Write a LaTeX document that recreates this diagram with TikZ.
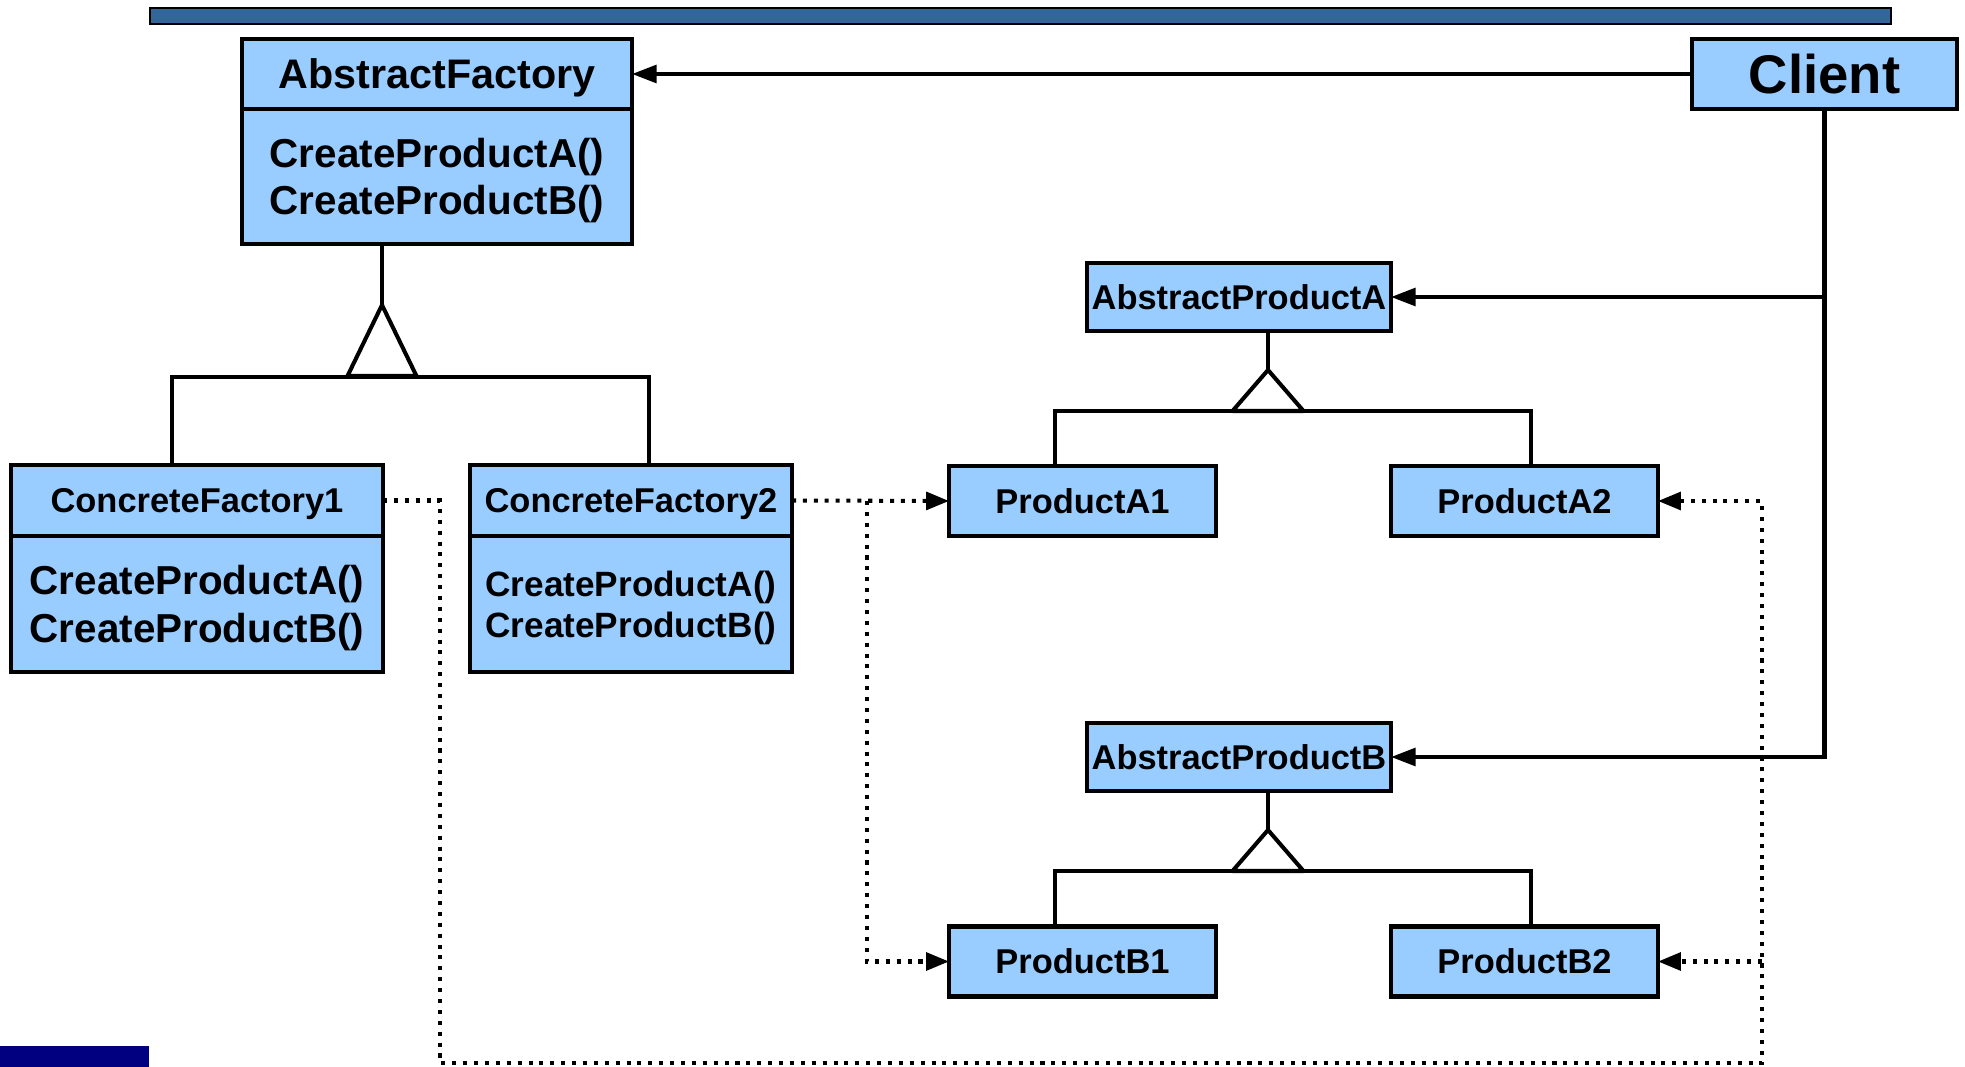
\documentclass[tikz,border=0pt]{standalone}
\usepackage{fontspec}
\setmainfont{Liberation Sans}
\usetikzlibrary{arrows.meta,positioning}
\definecolor{classblue}{HTML}{99CCFF}
\definecolor{barblue}{HTML}{336699}
\definecolor{logoblue}{HTML}{000080}

\begin{document}
\begin{tikzpicture}[x=0.02cm,y=-0.02cm,
  cls/.style={draw,fill=classblue,line width=2.5pt,outer sep=0pt,inner sep=0pt,align=center,text depth=0pt},
  big/.style={font=\bfseries\fontsize{23.5}{28}\selectfont},
  ops/.style={font=\bfseries\fontsize{23}{27}\selectfont},
  small/.style={font=\bfseries\fontsize{19.6}{23.5}\selectfont},
  prod/.style={cls,small,minimum width=5.34cm,minimum height=1.4cm},
  conn/.style={line width=2.3pt},
  uses/.style={conn,-{Triangle[length=14pt,width=10pt]}},
  creates/.style={line width=2.3pt,dash pattern=on 2.3pt off 3.9pt,-{Triangle[length=13pt,width=10pt]}}]
  \useasboundingbox (0,0) rectangle (1965,1067);
  \fill[barblue,draw=black,line width=1.2pt] (150,8) rectangle (1891,24);
  \fill[logoblue] (0,1046) rectangle (149,1067);

  \node[cls,big,minimum width=7.8cm,minimum height=1.4cm]  (af)     at (437,74)     {AbstractFactory};
  \node[cls,ops,minimum width=7.8cm,minimum height=2.7cm]  (af_ops) [below=0pt of af] {CreateProductA()\\CreateProductB()};
  \node[cls,font=\bfseries\fontsize{31}{36}\selectfont,minimum width=5.3cm,minimum height=1.4cm] (client) at (1824.5,74) {Client};
  \node[cls,small,minimum width=7.44cm,minimum height=1.42cm] (cf_1)     at (197,500.5) {ConcreteFactory1};
  \node[cls,ops,minimum width=7.44cm,minimum height=2.72cm]   (cf_1_ops) [below=0pt of cf_1] {CreateProductA()\\CreateProductB()};
  \node[cls,small,minimum width=6.44cm,minimum height=1.42cm] (cf_2)     at (631,500.5) {ConcreteFactory2};
  \node[cls,font=\bfseries\fontsize{20}{23.3}\selectfont,minimum width=6.44cm,minimum height=2.72cm] (cf_2_ops) [below=0pt of cf_2] {CreateProductA()\\CreateProductB()};
  \node[cls,small,minimum width=6.08cm,minimum height=1.36cm] (apa) at (1239,297) {AbstractProductA};
  \node[cls,small,minimum width=6.08cm,minimum height=1.36cm] (apb) at (1239,757) {AbstractProductB};
  \node[prod] (pa_1) at (1082.5,501)   {ProductA1};
  \node[prod] (pa_2) at (1524.5,501)   {ProductA2};
  \node[prod] (pb_1) at (1082.5,961.5) {ProductB1};
  \node[prod] (pb_2) at (1524.5,961.5) {ProductB2};

  % factory hierarchy
  \coordinate (af_tip) at (382,305);
  \coordinate (af_l) at (172,377);
  \coordinate (af_r) at (649,377);
  \draw[conn] (af_ops.south -| af_tip) -- (af_tip);
  \draw[conn,line join=round] (af_tip) -- ++(-34.5,71) -- ++(69,0) -- cycle;
  \draw[conn] (af_l |- cf_1.north) -- (af_l) -- (af_r) -- (af_r |- cf_2.north);

  % product hierarchies
  \foreach \ab/\py/\lo/\hi in {apa/370/pa_1/pa_2,apb/830/pb_1/pb_2} {
    \coordinate (tip) at (1268,\py);
    \coordinate (bar_l) at (1055,\py+41);
    \coordinate (bar_r) at (1531,\py+41);
    \draw[conn] (\ab.south -| tip) -- (tip);
    \draw[conn,line join=round] (tip) -- ++(-35.5,41) -- ++(71,0) -- cycle;
    \draw[conn] (bar_l |- \lo.north) -- (bar_l) -- (bar_r) -- (bar_r |- \hi.north);
  }

  % client uses
  \draw[uses] (client) -- (af);
  \draw[uses] (client) |- (apb);
  \draw[uses] (client |- apa) -- (apa);

  % factories create
  \coordinate (ret_l) at (440,1063);
  \coordinate (ret_r) at (1762,1063);
  \coordinate (fork) at (867,501);
  \draw[creates] (cf_1.east) -| (ret_l) -- (ret_r) |- (pa_2.east);
  \draw[creates] (ret_r |- pb_2.east) -- (pb_2.east);
  \draw[creates] (cf_2.east) -- (pa_1.west);
  \draw[creates] (fork) |- (pb_1.west);
\end{tikzpicture}
\end{document}
